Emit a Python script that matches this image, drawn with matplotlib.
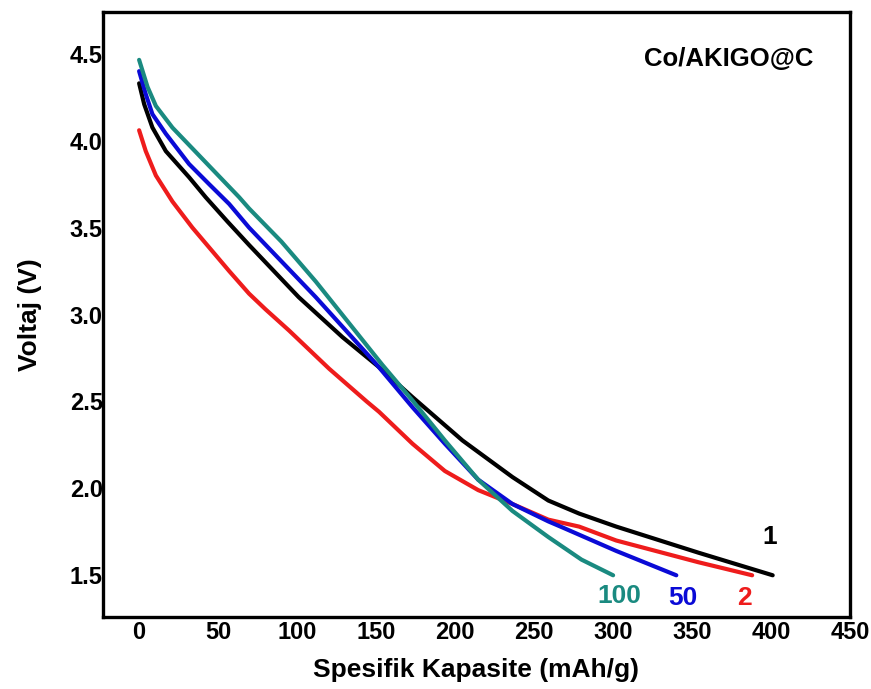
import matplotlib.pyplot as plt

plt.rcParams['font.family'] = ['Liberation Sans', 'DejaVu Sans']
plt.rcParams['font.weight'] = 'bold'

# cycle 1
x1 = [0, 3.2, 8.4, 16.9, 31.6, 42.2, 55.9, 69.6, 101, 128.7, 151.9, 173, 204.6, 236.3, 259, 278.5, 302, 354, 401]
y1 = [4.33, 4.21, 4.076, 3.94, 3.79, 3.674, 3.535, 3.40, 3.10, 2.87, 2.697, 2.525, 2.276, 2.065, 1.93, 1.855, 1.78, 1.63, 1.50]
# cycle 2
x2 = [0, 4.2, 10.6, 21.1, 33.7, 57, 69.6, 80, 94.9, 120.3, 144, 151.9, 173, 193.5, 214.6, 236.3, 259, 278.5, 302, 354, 388]
y2 = [4.06, 3.94, 3.80, 3.65, 3.50, 3.25, 3.12, 3.03, 2.908, 2.688, 2.50, 2.44, 2.257, 2.10, 1.99, 1.91, 1.82, 1.78, 1.70, 1.575, 1.50]
# cycle 50
x50 = [0, 4.2, 8.4, 16.9, 31.6, 44.3, 57, 69.6, 111.8, 150, 173, 193.5, 214.6, 236.3, 259, 268, 302, 340]
y50 = [4.40, 4.268, 4.153, 4.04, 3.866, 3.75, 3.636, 3.50, 3.10, 2.716, 2.467, 2.257, 2.05, 1.91, 1.81, 1.775, 1.64, 1.50]
# cycle 100
x100 = [0, 5.3, 10.6, 21.1, 42.2, 63.3, 69.6, 90, 111.8, 154, 173, 193.5, 214.6, 236.3, 259, 280, 300]
y100 = [4.465, 4.31, 4.20, 4.075, 3.875, 3.675, 3.61, 3.42, 3.19, 2.71, 2.506, 2.276, 2.05, 1.87, 1.72, 1.59, 1.50]

fig = plt.figure(figsize=(8.71, 6.89), dpi=100)
ax = fig.add_axes([0.118, 0.1045, 0.858, 0.878])

lw = 3
for xs, ys, c in [(x1, y1, 'black'), (x2, y2, '#ee1c1c'),
                  (x50, y50, '#0a0ad6'), (x100, y100, '#1a8a80')]:
    ax.plot(xs, ys, color=c, lw=lw, solid_capstyle='round', solid_joinstyle='round')

ax.text(399, 1.72, '1', color='black', fontsize=19, fontweight='bold', ha='center', va='center')
ax.text(383, 1.37, '2', color='#ee1c1c', fontsize=19, fontweight='bold', ha='center', va='center')
ax.text(344, 1.37, '50', color='#0a0ad6', fontsize=19, fontweight='bold', ha='center', va='center')
ax.text(304, 1.38, '100', color='#1a8a80', fontsize=19, fontweight='bold', ha='center', va='center')
ax.text(373, 4.47, 'Co/AKIGO@C', color='black', fontsize=18.5, fontweight='bold', ha='center', va='center')

ax.set_xlim(-23, 450)
ax.set_ylim(1.26, 4.74)
ax.set_xticks(range(0, 451, 50))
ax.set_yticks([1.5, 2.0, 2.5, 3.0, 3.5, 4.0, 4.5])
ax.set_yticklabels(['1.5', '2.0', '2.5', '3.0', '3.5', '4.0', '4.5'])
ax.tick_params(length=0, labelsize=17)
ax.tick_params(axis='x', pad=3)
ax.tick_params(axis='y', pad=0)
for lab in ax.get_xticklabels() + ax.get_yticklabels():
    lab.set_fontweight('bold')
for s in ax.spines.values():
    s.set_linewidth(2.4)

ax.set_xlabel('Spesifik Kapasite (mAh/g)', fontsize=19, fontweight='bold', labelpad=10)
ax.set_ylabel('Voltaj (V)', fontsize=19, fontweight='bold', labelpad=20)

fig.savefig('out.png', dpi=100)
